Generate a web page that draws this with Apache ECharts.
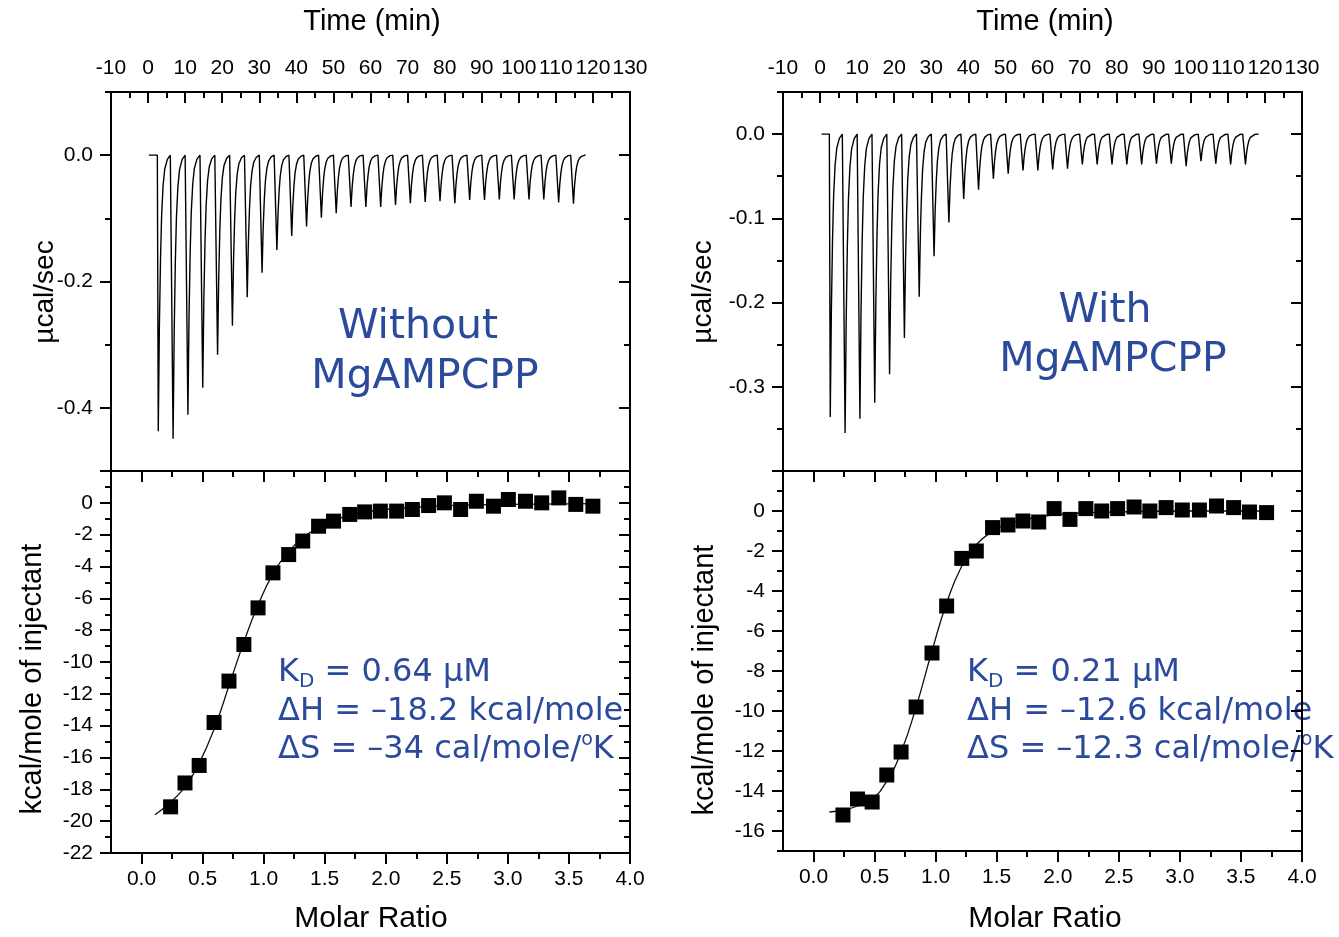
<!DOCTYPE html>
<html><head><meta charset="utf-8">
<script src="https://cdn.jsdelivr.net/npm/echarts@6/dist/echarts.min.js"></script>
<style>html,body{margin:0;padding:0;background:#fff}#c{width:1339px;height:937px}</style>
</head><body><div id="c"></div><script>
// ---------------- data ----------------
// injection times (min) of the raw ITC traces
const injTimesL = [2.5,6.5,10.5,14.5,18.5,22.5,26.5,30.5,34.5,38.5,42.5,46.5,50.5,54.5,58.5,62.5,66.5,70.5,74.5,78.5,82.5,86.5,90.5,94.5,98.5,102.5,106.5,110.5,114.5];
const peaksL = [-0.437,-0.449,-0.411,-0.368,-0.316,-0.270,-0.225,-0.186,-0.150,-0.128,-0.113,-0.099,-0.092,-0.082,-0.082,-0.082,-0.079,-0.076,-0.074,-0.073,-0.076,-0.071,-0.071,-0.070,-0.070,-0.070,-0.070,-0.075,-0.077];
const baseSpanL = [0.2, 117.6];
const injTimesR = [2.5,6.5,10.5,14.5,18.5,22.5,26.5,30.5,34.5,38.5,42.5,46.5,50.5,54.5,58.5,62.5,66.5,70.5,74.5,78.5,82.5,86.5,90.5,94.5,98.5,102.5,106.5,110.5,114.5];
const peaksR = [-0.336,-0.355,-0.338,-0.319,-0.285,-0.242,-0.193,-0.145,-0.105,-0.077,-0.066,-0.053,-0.047,-0.043,-0.043,-0.042,-0.041,-0.036,-0.036,-0.036,-0.036,-0.036,-0.035,-0.035,-0.038,-0.032,-0.035,-0.036,-0.036];
const baseSpanR = [0.4, 118.3];
// shape of one injection peak (min after injection, fraction of peak depth)
const spikeDt   = [0, 0.25, 0.55, 0.85, 1.15, 1.55, 2.0, 2.7, 3.5];
const spikeFrac = [0, 1, 0.62, 0.38, 0.22, 0.11, 0.05, 0.015, 0];

// integrated heats
const molarL = [0.238,0.356,0.472,0.594,0.716,0.838,0.954,1.076,1.205,1.32,1.45,1.572,1.705,1.827,1.956,2.089,2.218,2.351,2.48,2.613,2.742,2.882,3.004,3.144,3.277,3.417,3.556,3.696];
const heatL  = [-19.1,-17.6,-16.5,-13.8,-11.2,-8.9,-6.6,-4.4,-3.25,-2.4,-1.47,-1.15,-0.73,-0.57,-0.52,-0.52,-0.42,-0.17,0.0,-0.42,0.1,-0.21,0.21,0.1,0.0,0.31,-0.1,-0.21];
const fitXL  = [0.11,0.24,0.36,0.47,0.60,0.72,0.84,0.95,1.08,1.20,1.32,1.45,1.57,1.70,1.83,1.96,2.2,2.5,3.0,3.5,3.7];
const fitYL  = [-19.6,-18.8,-17.8,-16.4,-14.1,-11.4,-8.7,-6.5,-4.4,-3.1,-2.2,-1.55,-1.1,-0.8,-0.6,-0.45,-0.3,-0.18,-0.1,-0.06,-0.05];
const molarR = [0.241,0.36,0.48,0.60,0.717,0.84,0.97,1.09,1.214,1.333,1.466,1.592,1.715,1.844,1.97,2.10,2.23,2.36,2.49,2.625,2.754,2.887,3.02,3.16,3.30,3.44,3.57,3.71];
const heatR  = [-15.2,-14.4,-14.55,-13.2,-12.05,-9.8,-7.1,-4.75,-2.37,-2.0,-0.83,-0.7,-0.5,-0.55,0.12,-0.42,0.12,0.0,0.12,0.2,0.0,0.17,0.05,0.05,0.25,0.17,-0.05,-0.08];
const fitXR  = [0.13,0.24,0.36,0.48,0.60,0.72,0.84,0.97,1.09,1.21,1.33,1.47,1.59,1.72,1.84,1.97,2.2,2.5,3.0,3.7];
const fitYR  = [-15.05,-14.95,-14.75,-14.4,-13.5,-12.0,-9.8,-7.0,-4.6,-2.8,-1.7,-1.0,-0.65,-0.45,-0.3,-0.2,-0.1,-0.05,0.0,0.0];

// tick values / labels
const timeMajor = [-10,0,10,20,30,40,50,60,70,80,90,100,110,120,130];
const timeMinor = [-5,5,15,25,35,45,55,65,75,85,95,105,115,125];
const powLabelsL = [0,-0.2,-0.4];
const powMajorL  = [0,-0.2,-0.4];
const powMinorL  = [0.1,-0.1,-0.3,-0.5];
const powLabelsR = [0,-0.1,-0.2,-0.3];
const powMajorR  = [0,-0.1,-0.2,-0.3,-0.4];
const powMinorR  = [0.05,-0.05,-0.15,-0.25,-0.35];
const heatLabelsL = [0,-2,-4,-6,-8,-10,-12,-14,-16,-18,-20,-22];
const heatMajorL  = [2,0,-2,-4,-6,-8,-10,-12,-14,-16,-18,-20,-22];
const heatMinorL  = [1,-1,-3,-5,-7,-9,-11,-13,-15,-17,-19,-21];
const heatLabelsR = [0,-2,-4,-6,-8,-10,-12,-14,-16];
const heatMajorR  = [2,0,-2,-4,-6,-8,-10,-12,-14,-16];
const heatMinorR  = [1,-1,-3,-5,-7,-9,-11,-13,-15,-17];
const molarMajor = [0,0.5,1,1.5,2,2.5,3,3.5,4];
const molarMinor = [0.25,0.75,1.25,1.75,2.25,2.75,3.25,3.75];

// ---------------- build ----------------
const BLACK = '#000';
const BLUE = '#2b4a9c';
const FONT = 'Liberation Sans, Arial, sans-serif';
const BFONT = 'DejaVu Sans, Verdana, sans-serif';

function buildTrace(span, times, peaks) {
  const pts = [[span[0], 0]];
  times.forEach((t, i) => spikeDt.forEach((d, j) => pts.push([t + d, peaks[i] * spikeFrac[j]])));
  pts.push([span[1], 0]);
  return pts;
}
const zip = (a, b) => a.map((v, i) => [v, b[i]]);

function ax(o) {
  return {
    type: 'value', gridIndex: o.grid, position: o.pos, min: o.min, max: o.max,
    axisLine: {show: o.line !== false, onZero: false, lineStyle: {color: BLACK, width: 2}},
    axisTick: o.ticks ? {show: true, inside: !!o.inside, length: o.len || 11, customValues: o.ticks,
                         lineStyle: {color: BLACK, width: 2}} : {show: false},
    axisLabel: o.labels ? {show: true, customValues: o.labels, formatter: o.fmt, color: BLACK,
                           fontSize: 21, fontFamily: FONT, margin: o.margin} : {show: false},
    splitLine: {show: false}
  };
}
const xAxes = [], yAxes = [];
const addX = o => (xAxes.push(ax(o)), xAxes.length - 1);
const addY = o => (yAxes.push(ax(o)), yAxes.length - 1);

function panel(g0, g1, c) {
  const T = {min: -10, max: 130};
  const iTime = addX({grid: g0, pos: 'top', ...T, ticks: timeMajor, inside: true, labels: timeMajor, fmt: v => String(v), margin: 13});
  addX({grid: g0, pos: 'top', ...T, ticks: timeMinor, inside: true, len: 6, line: false});
  addX({grid: g0, pos: 'bottom', ...T});
  const P = {min: c.pMin, max: c.pMax};
  const iPow = addY({grid: g0, pos: 'left', ...P, ticks: c.pMajor, labels: c.pLabels, fmt: v => v.toFixed(1), margin: 18});
  addY({grid: g0, pos: 'left', ...P, ticks: c.pMinor, len: 6, line: false});
  addY({grid: g0, pos: 'right', ...P, ticks: c.pMajor, inside: true});
  addY({grid: g0, pos: 'right', ...P, ticks: c.pMinor, inside: true, len: 6, line: false});
  const M = {min: -0.25, max: 4};
  const iMol = addX({grid: g1, pos: 'bottom', ...M, ticks: molarMajor, labels: molarMajor, fmt: v => v.toFixed(1), margin: 16});
  addX({grid: g1, pos: 'bottom', ...M, ticks: molarMinor, len: 6, line: false});
  addX({grid: g1, pos: 'top', ...M, ticks: molarMajor, inside: true});
  addX({grid: g1, pos: 'top', ...M, ticks: molarMinor, inside: true, len: 6, line: false});
  const H = {min: c.hMin, max: 2};
  const iHeat = addY({grid: g1, pos: 'left', ...H, ticks: c.hMajor, labels: c.hLabels, fmt: v => String(v), margin: 18});
  addY({grid: g1, pos: 'left', ...H, ticks: c.hMinor, len: 6, line: false});
  addY({grid: g1, pos: 'right', ...H, ticks: c.hMajor, inside: true});
  addY({grid: g1, pos: 'right', ...H, ticks: c.hMinor, inside: true, len: 6, line: false});
  return {iTime, iPow, iMol, iHeat};
}

const A = panel(0, 1, {pMin: -0.5, pMax: 0.1, pMajor: powMajorL, pMinor: powMinorL, pLabels: powLabelsL,
                       hMin: -22, hMajor: heatMajorL, hMinor: heatMinorL, hLabels: heatLabelsL});
const B = panel(2, 3, {pMin: -0.4, pMax: 0.05, pMajor: powMajorR, pMinor: powMinorR, pLabels: powLabelsR,
                       hMin: -17, hMajor: heatMajorR, hMinor: heatMinorR, hLabels: heatLabelsR});

function seriesFor(P, trace, fit, pts) {
  return [
    {type: 'line', xAxisIndex: P.iTime, yAxisIndex: P.iPow, data: trace, symbol: 'none',
     lineStyle: {color: '#000', width: 1.4}, clip: true},
    {type: 'line', xAxisIndex: P.iMol, yAxisIndex: P.iHeat, data: fit, symbol: 'none', smooth: true,
     lineStyle: {color: '#111', width: 1.3}},
    {type: 'scatter', xAxisIndex: P.iMol, yAxisIndex: P.iHeat, data: pts, symbol: 'rect', symbolSize: 15,
     itemStyle: {color: BLACK, opacity: 1}, z: 3}
  ];
}

function txt(x, y, text, size, opts) {
  return Object.assign({type: 'text', x, y, silent: true,
    style: {text, fontSize: size, fontFamily: FONT, fill: BLACK, align: 'center', verticalAlign: 'middle'}}, opts || {});
}
function rot(x, y, text, size) { return txt(x, y, text, size, {rotation: Math.PI / 2}); }
function blue(x, y, text) {
  return {type: 'text', x, y, silent: true,
    style: {text, fontSize: 41, fontFamily: BFONT, fill: BLUE, align: 'center', verticalAlign: 'middle'}};
}
const rich = {
  m: {fontSize: 32, fontFamily: BFONT, fill: BLUE, lineHeight: 38},
  sub: {fontSize: 20, fontFamily: BFONT, fill: BLUE, verticalAlign: 'bottom'},
  sup: {fontSize: 19, fontFamily: BFONT, fill: BLUE, verticalAlign: 'top'}
};
function thermo(x, y, text) {
  return {type: 'text', x, y, silent: true,
    style: {text, rich, fill: BLUE, fontSize: 32, fontFamily: BFONT, align: 'left', verticalAlign: 'middle'}};
}

const graphics = [
  txt(372, 22, 'Time (min)', 29), txt(1045, 22, 'Time (min)', 29),
  rot(45, 292, 'µcal/sec', 28), rot(703, 292, 'µcal/sec', 28),
  rot(33, 679, 'kcal/mole of injectant', 29), rot(705, 680, 'kcal/mole of injectant', 29),
  txt(371, 919, 'Molar Ratio', 30), txt(1045, 919, 'Molar Ratio', 30),
  blue(418, 327, 'Without'), blue(425, 377, 'MgAMPCPP'),
  blue(1105, 311, 'With'), blue(1113, 360, 'MgAMPCPP'),
  thermo(278, 673, '{m|K}{sub|D}{m| = 0.64 μM}'),
  thermo(278, 712, '{m|ΔH = –18.2 kcal/mole}'),
  thermo(278, 750, '{m|ΔS = –34 cal/mole/}{sup|o}{m|K}'),
  thermo(967, 673, '{m|K}{sub|D}{m| = 0.21 μM}'),
  thermo(967, 712, '{m|ΔH = –12.6 kcal/mole}'),
  thermo(967, 750, '{m|ΔS = –12.3 cal/mole/}{sup|o}{m|K}')
];

const chart = echarts.init(document.getElementById('c'), null, {renderer: 'canvas'});
chart.setOption({
  animation: false,
  backgroundColor: '#fff',
  grid: [
    {left: 111, top: 92, width: 519, height: 379},
    {left: 111, top: 471, width: 519, height: 382},
    {left: 783, top: 92, width: 519, height: 379},
    {left: 783, top: 471, width: 519, height: 380}
  ],
  xAxis: xAxes,
  yAxis: yAxes,
  series: [
    ...seriesFor(A, buildTrace(baseSpanL, injTimesL, peaksL), zip(fitXL, fitYL), zip(molarL, heatL)),
    ...seriesFor(B, buildTrace(baseSpanR, injTimesR, peaksR), zip(fitXR, fitYR), zip(molarR, heatR))
  ],
  graphic: graphics
});
</script></body></html>
